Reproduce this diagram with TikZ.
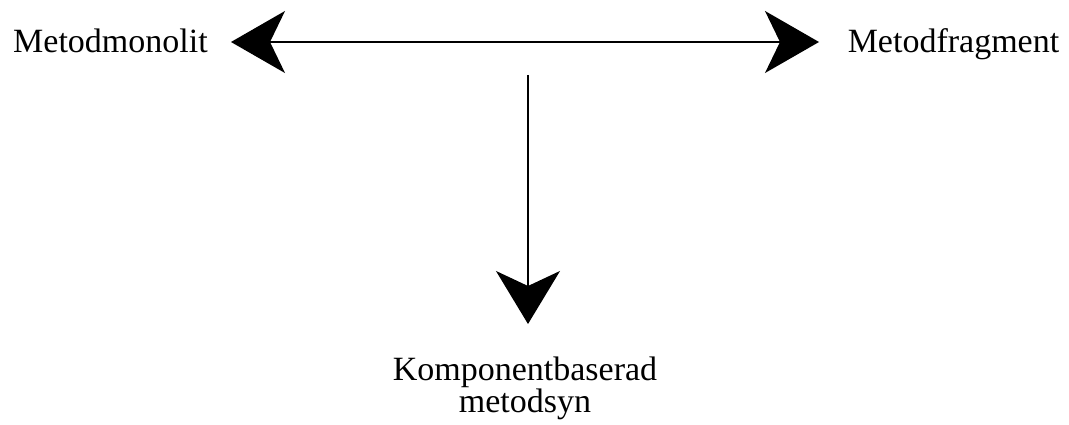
\documentclass[tikz,border=0pt]{standalone}
\usepackage{fontspec}
\setmainfont{Liberation Serif}
\usetikzlibrary{arrows.meta}
\begin{document}
\begin{tikzpicture}[x=1pt,y=-1pt,
  lbl/.style={font=\fontsize{34}{26}\selectfont, inner sep=0pt, anchor=base, align=center},
  conn/.style={line width=1.3pt, {Stealth[length=54pt,width=62pt,inset=15pt]}-{Stealth[length=54pt,width=62pt,inset=15pt]}},
  conn1/.style={line width=1.3pt, -{Stealth[length=53pt,width=64pt,inset=15pt]}}]
\useasboundingbox (0,0) rectangle (1069,425);
\node[lbl] (mono) at (110.5,53) {Metodmonolit};
\node[lbl] (frag) at (953.5,53) {Metodfragment};
\node[lbl, anchor=base] (komp) at (525,412) {Komponentbaserad\\metodsyn};
\coordinate (L) at (231,42);
\coordinate (R) at (819,42);
\coordinate (T) at (528,75);
\coordinate (D) at (528,324);
\draw[conn] (L) -- (R);
\draw[conn1] (T) -- (D);
\end{tikzpicture}
\end{document}
